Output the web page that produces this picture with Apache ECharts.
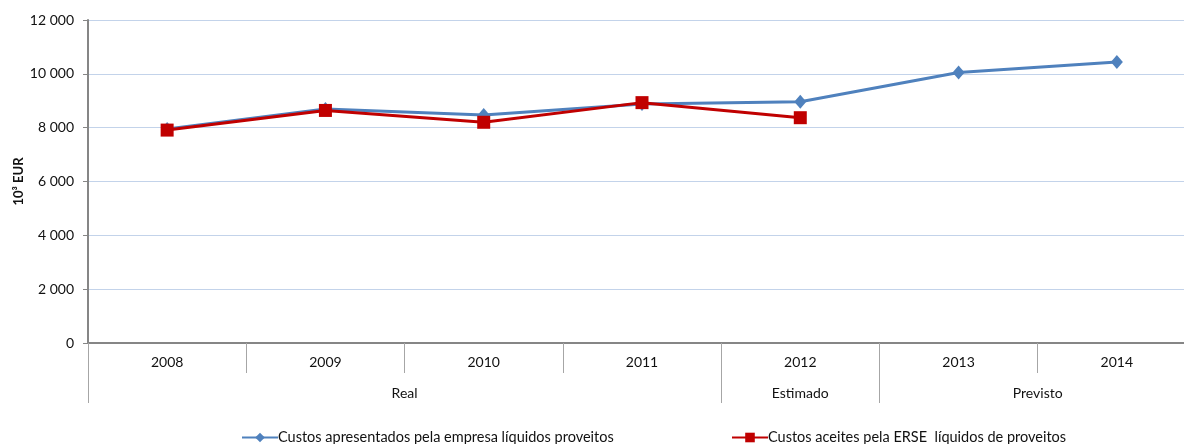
<!DOCTYPE html>
<html>
<head>
<meta charset="utf-8">
<script src="https://cdn.jsdelivr.net/npm/echarts@6/dist/echarts.min.js"></script>
<style>
  html, body { margin: 0; padding: 0; background: #fff; overflow: hidden; }
  /* the plot runs a little past the right edge of the visible page */
  #chart { width: 1200px; height: 444px; }
</style>
</head>
<body>
<div id="chart"></div>
<script>
// Years on the category axis
const years = ['2008', '2009', '2010', '2011', '2012', '2013', '2014'];
// Period groups and how many years each one spans
const groupNames = ['Real', 'Estimado', 'Previsto'];
const groupSpans = [4, 1, 2];
// Series (10^3 EUR)
const seriesNames = [
  'Custos apresentados pela empresa líquidos proveitos',
  'Custos aceites pela ERSE  líquidos de proveitos'
];
const custosApresentados = [7950, 8690, 8470, 8880, 8960, 10050, 10440];
const custosAceites = [7910, 8640, 8200, 8930, 8370];
// Value axis ticks
const yTicks = [0, 2000, 4000, 6000, 8000, 10000, 12000];

const FONT = 'Lato';
const TXT = '#111111';

// group boundaries and centres in category units
const groupBounds = [0];
const groupCentres = [];
groupSpans.forEach((s, i) => {
  groupCentres.push(groupBounds[i] + s / 2);
  groupBounds.push(groupBounds[i] + s);
});

const fmtThousands = v => String(v).replace(/\B(?=(\d{3})+(?!\d))/g, ' ');

const legendItem = (name, left) => ({
  data: [name], left: left, top: 430, padding: 0,
  itemWidth: 36, itemHeight: 12, itemGap: 0,
  textStyle: { fontFamily: FONT, fontSize: 14.5, color: TXT, padding: [0, 0, 0, -5] }
});

const chart = echarts.init(document.getElementById('chart'), null, { renderer: 'canvas' });
chart.setOption({
  animation: false,
  textStyle: { fontFamily: FONT },
  grid: { left: 88, top: 20, bottom: 101, right: 4, containLabel: false, outerBoundsMode: 'none' },
  legend: [legendItem(seriesNames[0], 241), legendItem(seriesNames[1], 731)],
  xAxis: [
    {
      type: 'category',
      data: years,
      boundaryGap: true,
      axisLine: { show: true, lineStyle: { color: '#868686', width: 2 } },
      axisTick: { show: true, interval: 0, length: 30, lineStyle: { color: '#a6a6a6', width: 1 } },
      axisLabel: { interval: 0, margin: 12, fontSize: 14, color: TXT, fontFamily: FONT },
      splitLine: { show: false }
    },
    {
      type: 'value',
      min: 0, max: years.length,
      position: 'bottom',
      axisLine: { show: false },
      splitLine: { show: false },
      axisTick: { show: true, customValues: groupBounds, length: 60, lineStyle: { color: '#a6a6a6', width: 1 } },
      axisLabel: {
        show: true, customValues: groupCentres, margin: 43, fontSize: 14, color: TXT, fontFamily: FONT,
        formatter: v => {
          const i = groupCentres.indexOf(v);
          return i >= 0 ? groupNames[i] : '';
        }
      }
    }
  ],
  yAxis: {
    type: 'value',
    min: yTicks[0], max: yTicks[yTicks.length - 1], interval: yTicks[1] - yTicks[0],
    name: '10³ EUR',
    nameLocation: 'middle',
    nameGap: 63,
    nameMoveOverlap: false,
    nameRotate: 90,
    nameTextStyle: { fontFamily: FONT, fontSize: 13, fontWeight: 'bold', color: TXT },
    axisLine: { show: true, lineStyle: { color: '#868686', width: 2 } },
    axisTick: { show: true, length: 5, lineStyle: { color: '#868686', width: 1 } },
    axisLabel: { margin: 14, fontSize: 14, color: TXT, fontFamily: FONT, formatter: fmtThousands },
    splitLine: { show: true, lineStyle: { color: '#c3d3ea', width: 1.2 } }
  },
  series: [
    {
      name: seriesNames[0],
      type: 'line',
      data: custosApresentados,
      symbol: 'diamond', symbolSize: [12, 14],
      lineStyle: { color: '#4f81bd', width: 3 },
      itemStyle: { color: '#4f81bd' },
      z: 2
    },
    {
      name: seriesNames[1],
      type: 'line',
      data: custosAceites,
      symbol: 'rect', symbolSize: 13,
      lineStyle: { color: '#c00000', width: 3 },
      itemStyle: { color: '#c00000' },
      z: 3
    }
  ]
});
</script>
</body>
</html>
